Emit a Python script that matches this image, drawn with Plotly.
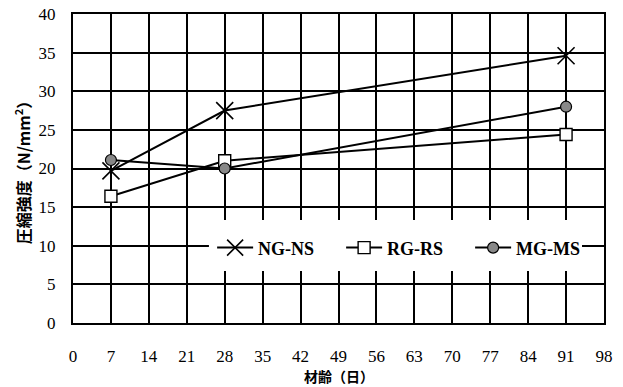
import plotly.graph_objects as go

ages = [7, 28, 91]
ng_ns = [19.7, 27.5, 34.6]
rg_rs = [16.4, 21.0, 24.4]
mg_ms = [21.1, 20.0, 28.0]
series_names = ["NG-NS", "RG-RS", "MG-MS"]
x_ticks = list(range(0, 99, 7))
y_ticks = list(range(0, 41, 5))
x_title = "材齢（日）"
y_title = "圧縮強度（N/mm<sup>2</sup>）"

fig = go.Figure()
fig.add_trace(go.Scatter(x=ages, y=ng_ns, name=series_names[0], mode="lines+markers",
                         line=dict(color="black", width=2),
                         marker=dict(symbol="x-thin-open", size=17, line=dict(color="black", width=1.6))))
fig.add_trace(go.Scatter(x=ages, y=rg_rs, name=series_names[1], mode="lines+markers",
                         line=dict(color="black", width=2),
                         marker=dict(symbol="square", size=12, color="white", line=dict(color="black", width=1.4))))
fig.add_trace(go.Scatter(x=ages, y=mg_ms, name=series_names[2], mode="lines+markers",
                         line=dict(color="black", width=2),
                         marker=dict(symbol="circle", size=11, color="#888888", line=dict(color="black", width=1.2))))

serif = "Liberation Serif"
cjk = "Noto Sans CJK JP"

# white backdrop behind the legend (paper-referenced)
fig.add_shape(type="rect", xref="paper", yref="paper", x0=0.256, x1=0.9586, y0=0.168, y1=0.333,
              fillcolor="white", line=dict(width=0), layer="above")

fig.add_annotation(text=x_title, xref="paper", yref="paper", x=0.5, y=-0.1715,
                   xanchor="center", yanchor="middle", showarrow=False,
                   font=dict(family=cjk, size=14, weight="bold", color="black"))

fig.update_layout(
    width=623, height=387,
    margin=dict(l=73, r=19, t=14, b=64, autoexpand=False),
    paper_bgcolor="white", plot_bgcolor="white",
    font=dict(family=serif, size=17, color="black"),
    showlegend=True,
    legend=dict(orientation="h", x=0.262, y=0.243, xanchor="left", yanchor="middle",
                bgcolor="rgba(0,0,0,0)", font=dict(family=serif, size=18, color="black", weight="bold"),
                itemwidth=36, entrywidth=78, tracegroupgap=0, borderwidth=0),
    xaxis=dict(range=[0, 98], tickvals=x_ticks, ticktext=[str(v) for v in x_ticks],
               tickfont=dict(family=serif, size=17), automargin=False,
               showgrid=True, gridcolor="black", gridwidth=1.5,
               showline=True, linecolor="black", linewidth=2, mirror=True,
               ticks="", ticklabelstandoff=17, zeroline=False),
    yaxis=dict(range=[0, 40], tickvals=y_ticks,
               tickfont=dict(family=serif, size=17), automargin=False,
               showgrid=True, gridcolor="black", gridwidth=1.5,
               showline=True, linecolor="black", linewidth=2, mirror=True,
               ticks="", ticklabelstandoff=12, zeroline=False,
               title=dict(text=y_title, standoff=4,
                          font=dict(family=cjk, size=16, weight="bold"))),
)
fig.write_html("out.html")
